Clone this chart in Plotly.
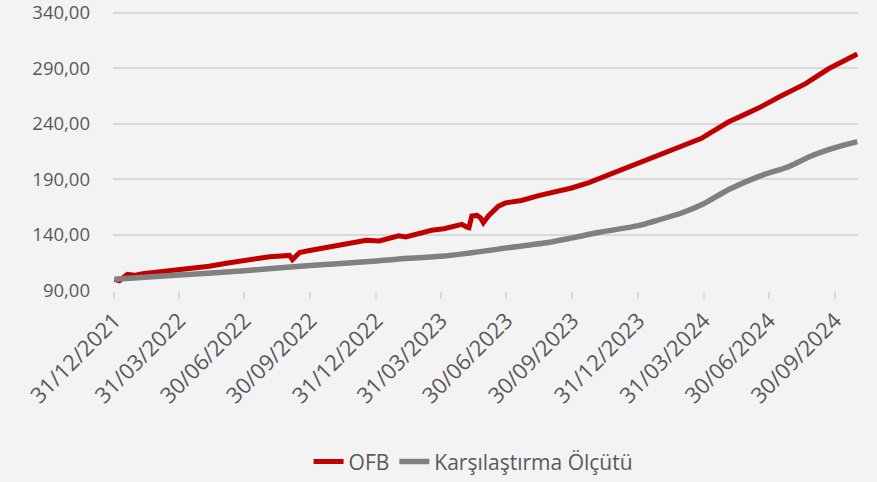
import plotly.graph_objects as go

# OFB (red) readings
ofb_dates = [
    "2021-12-31", "2022-01-07", "2022-01-18", "2022-01-28", "2022-02-08", "2022-03-04",
    "2022-03-27", "2022-04-21", "2022-05-12", "2022-06-05", "2022-06-23", "2022-07-07",
    "2022-07-21", "2022-08-04", "2022-08-22", "2022-09-01", "2022-09-05", "2022-09-15",
    "2022-09-29", "2022-10-13", "2022-10-31", "2022-11-23", "2022-12-17", "2023-01-04",
    "2023-01-18", "2023-01-31", "2023-02-10", "2023-02-28", "2023-03-18", "2023-04-04",
    "2023-04-15", "2023-04-29", "2023-05-06", "2023-05-09", "2023-05-13", "2023-05-20",
    "2023-05-25", "2023-05-29", "2023-06-05", "2023-06-12", "2023-06-19", "2023-06-29",
    "2023-07-21", "2023-08-14", "2023-09-06", "2023-09-29", "2023-10-23", "2023-11-15",
    "2023-12-07", "2023-12-31", "2024-01-24", "2024-02-15", "2024-03-10", "2024-03-28",
    "2024-04-07", "2024-05-05", "2024-05-26", "2024-06-16", "2024-07-14", "2024-08-20",
    "2024-09-21", "2024-10-31",
]
ofb_values = [
    100.0, 98.8, 104.5, 103.6, 105.0, 106.5,
    108.4, 110.0, 111.7, 114.4, 116.5, 118.3,
    119.0, 120.4, 121.8, 121.5, 117.8, 124.2,
    126.0, 127.5, 130.2, 132.5, 135.2, 134.6,
    136.5, 139.1, 138.2, 141.5, 144.2, 145.5,
    147.1, 149.5, 147.0, 146.5, 157.0, 157.5,
    155.5, 151.0, 157.0, 161.0, 165.9, 168.8,
    171.0, 175.4, 178.7, 182.2, 187.0, 192.7,
    199.0, 205.0, 210.5, 215.6, 221.5, 226.9,
    231.0, 241.8, 248.0, 254.3, 264.1, 276.1,
    289.5, 302.8,
]

# Benchmark (grey) readings
bench_dates = [
    "2021-12-31", "2022-03-31", "2022-06-30", "2022-09-30", "2022-12-31", "2023-01-31",
    "2023-03-31", "2023-06-19", "2023-06-30", "2023-08-27", "2023-09-30", "2023-11-05",
    "2023-12-31", "2024-01-15", "2024-03-01", "2024-03-31", "2024-05-05", "2024-06-16",
    "2024-07-28", "2024-08-26", "2024-09-30", "2024-10-31",
]
bench_values = [
    100.0, 103.8, 107.8, 112.5, 116.5, 118.3,
    120.7, 127.2, 128.3, 133.1, 137.3, 142.1,
    148.3, 151.0, 159.9, 168.0, 180.8, 192.7,
    201.6, 210.5, 218.5, 223.9,
]

x_tick_dates = [
    "2021-12-31", "2022-03-31", "2022-06-30", "2022-09-30", "2022-12-31", "2023-03-31",
    "2023-06-30", "2023-09-30", "2023-12-31", "2024-03-31", "2024-06-30", "2024-09-30",
]
x_tick_labels = [
    "31/12/2021", "31/03/2022", "30/06/2022", "30/09/2022", "31/12/2022", "31/03/2023",
    "30/06/2023", "30/09/2023", "31/12/2023", "31/03/2024", "30/06/2024", "30/09/2024",
]
y_tick_values = [90, 140, 190, 240, 290, 340]
y_tick_labels = ["90,00", "140,00", "190,00", "240,00", "290,00", "340,00"]

series_names = ["OFB", "Karşılaştırma Ölçütü"]

fig = go.Figure()
fig.add_trace(go.Scatter(x=ofb_dates, y=ofb_values, mode="lines", name=series_names[0],
                         line=dict(color="#c00000", width=5)))
fig.add_trace(go.Scatter(x=bench_dates, y=bench_values, mode="lines", name=series_names[1],
                         line=dict(color="#808080", width=5.5, shape="spline", smoothing=0.8)))

font_family = "Open Sans, DejaVu Sans, sans-serif"
fig.update_layout(
    width=877, height=482,
    margin=dict(l=113, r=19, t=11, b=191, autoexpand=False),
    paper_bgcolor="#f3f3f4",
    plot_bgcolor="rgba(0,0,0,0)",
    font=dict(family=font_family, color="#595959", size=18),
    showlegend=True,
    legend=dict(orientation="h", xref="container", yref="container",
                x=0.54, y=0.042, xanchor="center", yanchor="middle",
                font=dict(size=21, color="#595959"), bgcolor="rgba(0,0,0,0)",
                traceorder="normal"),
    xaxis=dict(
        type="date", range=["2021-12-29", "2024-11-01"], automargin=False,
        tickmode="array", tickvals=x_tick_dates, ticktext=x_tick_labels,
        tickangle=-45, showgrid=False, zeroline=False,
        showline=False, ticks="outside", ticklen=7, tickcolor="#d9d9d9", tickwidth=1.5,
        tickfont=dict(size=22, color="#595959"),
    ),
    yaxis=dict(
        range=[89.5, 341.5], automargin=False, ticklabeloverflow="allow",
        tickmode="array", tickvals=y_tick_values, ticktext=y_tick_labels,
        showgrid=True, gridcolor="#d9d9d9", gridwidth=1.5, zeroline=False,
        showline=False, ticks="", ticklabelstandoff=22,
        tickfont=dict(size=18.5, color="#595959"),
    ),
)

fig.write_html("out.html", config={"displayModeBar": False},
               post_script="document.body.style.margin='0';")
